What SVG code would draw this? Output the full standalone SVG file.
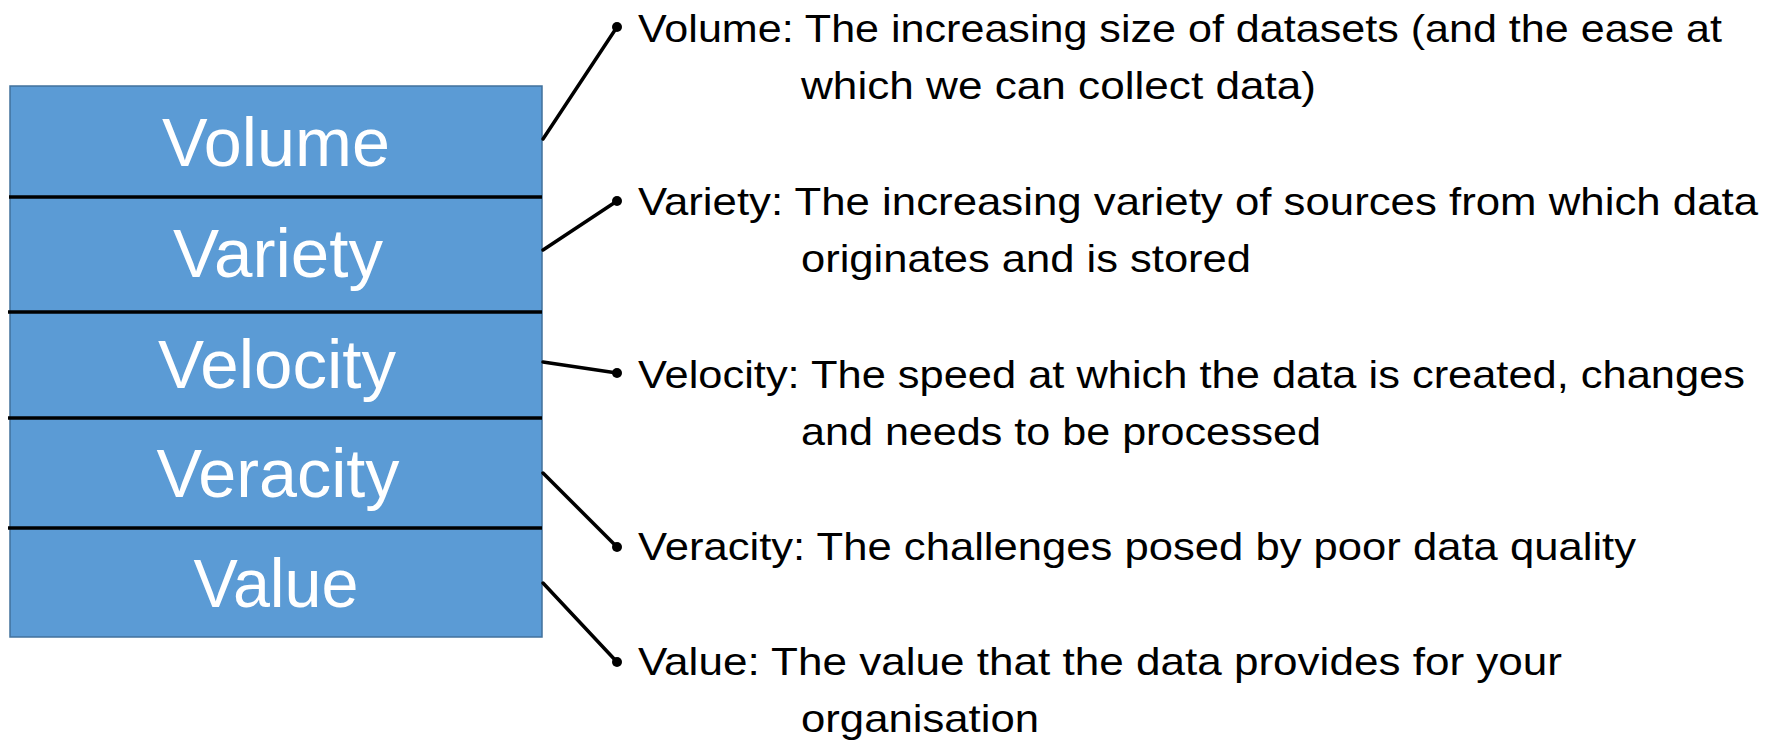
<svg xmlns="http://www.w3.org/2000/svg" width="1779" height="743" viewBox="0 0 1779 743">
<defs>
<style>
.box{fill:#5B9BD5;stroke:#41719C;stroke-width:1.5}
.div{stroke:#000;stroke-width:3.5}
.lbl{font-family:"Liberation Sans",Arial,sans-serif;font-size:68px;fill:#fff;text-anchor:middle}
.desc{font-family:"Liberation Sans",Arial,sans-serif;font-size:39px;fill:#000}
.conn line{stroke:#000;stroke-width:3.5;stroke-linecap:round}
.conn circle{fill:#000}
</style>
</defs>
<rect width="1779" height="743" fill="#fff"/>
<g id="stack">
<rect class="box" x="10" y="86" width="532" height="551"/>
<line class="div" x1="9" y1="197" x2="542" y2="197"/>
<line class="div" x1="8" y1="312" x2="542" y2="312"/>
<line class="div" x1="8" y1="418" x2="542" y2="418"/>
<line class="div" x1="8" y1="528" x2="542" y2="528"/>
</g>
<g id="node-volume"><text class="lbl" x="276" y="166" textLength="228" lengthAdjust="spacingAndGlyphs">Volume</text></g>
<g id="node-variety"><text class="lbl" x="278" y="277" textLength="210" lengthAdjust="spacingAndGlyphs">Variety</text></g>
<g id="node-velocity"><text class="lbl" x="277" y="388" textLength="238" lengthAdjust="spacingAndGlyphs">Velocity</text></g>
<g id="node-veracity"><text class="lbl" x="278" y="497" textLength="243" lengthAdjust="spacingAndGlyphs">Veracity</text></g>
<g id="node-value"><text class="lbl" x="276" y="607" textLength="165" lengthAdjust="spacingAndGlyphs">Value</text></g>
<g id="connectors" class="conn">
<line x1="543" y1="139" x2="617" y2="27"/><circle cx="617" cy="27" r="5"/>
<line x1="543" y1="250" x2="617" y2="201"/><circle cx="617" cy="201" r="5"/>
<line x1="543" y1="362" x2="617" y2="373"/><circle cx="617" cy="373" r="5"/>
<line x1="543" y1="473" x2="617" y2="547"/><circle cx="617" cy="547" r="5"/>
<line x1="543" y1="583" x2="617" y2="662"/><circle cx="617" cy="662" r="5"/>
</g>
<g id="desc-volume">
<text class="desc" x="638" y="42" textLength="1084" lengthAdjust="spacingAndGlyphs">Volume: The increasing size of datasets (and the ease at</text>
<text class="desc" x="801" y="99" textLength="515" lengthAdjust="spacingAndGlyphs">which we can collect data)</text>
</g>
<g id="desc-variety">
<text class="desc" x="638" y="215" textLength="1120" lengthAdjust="spacingAndGlyphs">Variety: The increasing variety of sources from which data</text>
<text class="desc" x="801" y="272" textLength="450" lengthAdjust="spacingAndGlyphs">originates and is stored</text>
</g>
<g id="desc-velocity">
<text class="desc" x="638" y="388" textLength="1107" lengthAdjust="spacingAndGlyphs">Velocity: The speed at which the data is created, changes</text>
<text class="desc" x="801" y="445" textLength="520" lengthAdjust="spacingAndGlyphs">and needs to be processed</text>
</g>
<g id="desc-veracity">
<text class="desc" x="638" y="560" textLength="998" lengthAdjust="spacingAndGlyphs">Veracity: The challenges posed by poor data quality</text>
</g>
<g id="desc-value">
<text class="desc" x="638" y="675" textLength="924" lengthAdjust="spacingAndGlyphs">Value: The value that the data provides for your</text>
<text class="desc" x="801" y="732" textLength="238" lengthAdjust="spacingAndGlyphs">organisation</text>
</g>
</svg>
